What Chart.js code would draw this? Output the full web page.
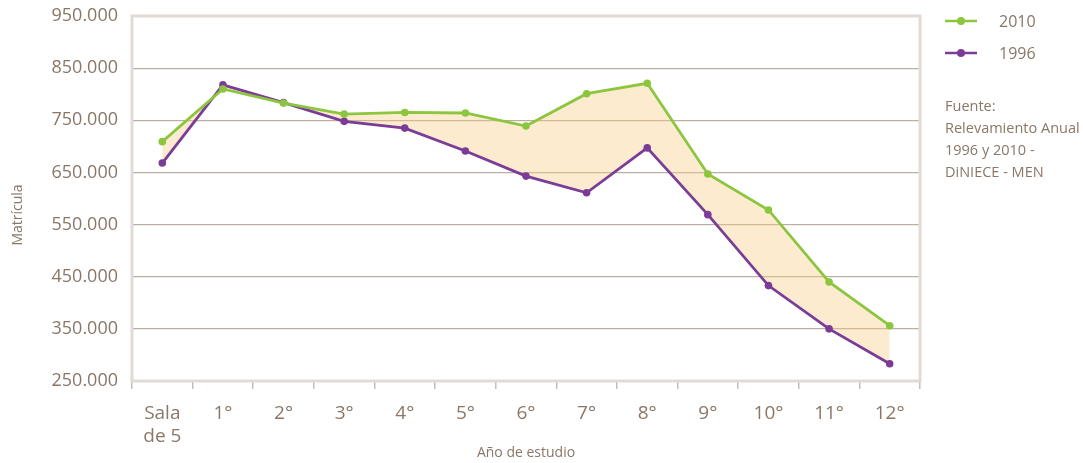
<!DOCTYPE html>
<html>
<head>
<meta charset="utf-8">
<script src="https://cdn.jsdelivr.net/npm/chart.js@4/dist/chart.umd.min.js"></script>
<style>
  html, body { margin: 0; padding: 0; background: #fff; }
  #wrap { position: relative; width: 1083px; height: 463px; }
</style>
</head>
<body>
<div id="wrap"><canvas id="matriculaChart"></canvas></div>
<script>
// datos
const categories = [['Sala', 'de 5'], '1°', '2°', '3°', '4°', '5°', '6°', '7°', '8°', '9°', '10°', '11°', '12°'];
const values2010 = [709000, 810000, 783000, 762000, 765000, 764000, 739000, 801000, 821000, 647000, 578000, 440000, 356000];
const values1996 = [668000, 818000, 784000, 748000, 735000, 691000, 643000, 611000, 697000, 569000, 433000, 350000, 283000];
const yTicks = [250000, 350000, 450000, 550000, 650000, 750000, 850000, 950000];
const sourceLines = ['Fuente:', 'Relevamiento Anual', '1996 y 2010 -', 'DiNIECE - MEN'];

const textColor = '#8a7767';
const gridColor = '#bcafa2';
const frameColor = '#e2dad4';
const green = '#8cc63f';
const purple = '#7b3c97';
const fontFamily = '"Open Sans", "Noto Sans", sans-serif';

function formatMiles(v) {
  return String(v).replace(/\B(?=(\d{3})+(?!\d))/g, '.');
}

// marco del area de graficos
const framePlugin = {
  id: 'frame',
  beforeDatasetsDraw(chart) {
    const a = chart.chartArea;
    const ctx = chart.ctx;
    ctx.save();
    ctx.strokeStyle = frameColor;
    ctx.lineWidth = 3;
    ctx.strokeRect(a.left, a.top, a.right - a.left, a.bottom - a.top);
    ctx.restore();
  }
};

// titulo eje y, leyenda y fuente
const sidePlugin = {
  id: 'side',
  afterDraw(chart) {
    const ctx = chart.ctx;
    ctx.save();
    ctx.fillStyle = textColor;
    ctx.font = '14px ' + fontFamily;
    ctx.translate(18, 215);
    ctx.rotate(-Math.PI / 2);
    ctx.textAlign = 'center';
    ctx.textBaseline = 'middle';
    ctx.fillText('Matrícula', 0, 0);
    ctx.restore();

    ctx.save();
    chart.data.datasets.forEach((ds, i) => {
      const y = 21 + i * 32;
      ctx.strokeStyle = ds.borderColor;
      ctx.lineWidth = 2.5;
      ctx.beginPath();
      ctx.moveTo(945, y);
      ctx.lineTo(977, y);
      ctx.stroke();
      ctx.fillStyle = ds.borderColor;
      ctx.beginPath();
      ctx.arc(961, y, 4, 0, Math.PI * 2);
      ctx.fill();
      ctx.fillStyle = textColor;
      ctx.font = '16px ' + fontFamily;
      ctx.textAlign = 'left';
      ctx.textBaseline = 'middle';
      ctx.fillText(ds.label, 999, y + 1);
    });
    ctx.font = '14.5px ' + fontFamily;
    sourceLines.forEach((t, i) => {
      ctx.fillText(t, 945, 107 + i * 22);
    });
    ctx.restore();
  }
};

const ctx = document.getElementById('matriculaChart').getContext('2d');
new Chart(ctx, {
  type: 'line',
  data: {
    labels: categories,
    datasets: [{
      label: '2010',
      data: values2010,
      borderColor: green,
      backgroundColor: 'rgba(250, 200, 125, 0.37)',
      pointBackgroundColor: green,
      borderWidth: 2.8,
      pointRadius: 3.8,
      pointBorderWidth: 0,
      tension: 0,
      fill: '+1'
    }, {
      label: '1996',
      data: values1996,
      borderColor: purple,
      backgroundColor: purple,
      pointBackgroundColor: purple,
      borderWidth: 2.8,
      pointRadius: 3.8,
      pointBorderWidth: 0,
      tension: 0,
      fill: false
    }]
  },
  options: {
    responsive: true,
    maintainAspectRatio: false,
    animation: false,
    layout: { padding: { top: 16, right: 163, left: 0, bottom: 0 } },
    plugins: {
      legend: { display: false },
      tooltip: { enabled: false },
      filler: { drawTime: 'beforeDatasetsDraw' }
    },
    scales: {
      x: {
        offset: true,
        border: { display: false },
        grid: {
          offset: true,
          drawOnChartArea: false,
          drawTicks: true,
          tickLength: 8,
          color: '#c9bdb3',
          lineWidth: 1.5
        },
        ticks: {
          color: textColor,
          font: { family: fontFamily, size: 19 },
          padding: 13,
          maxRotation: 0,
          autoSkip: false
        },
        title: {
          display: true,
          text: 'Año de estudio',
          color: textColor,
          font: { family: fontFamily, size: 14 },
          padding: { top: 4, bottom: 2 }
        },
        afterFit(scale) {
          scale.height = 82;
          scale.paddingLeft = 0;
          scale.paddingRight = 0;
        }
      },
      y: {
        min: 250000,
        max: 950000,
        border: { display: false },
        grid: {
          color: gridColor,
          lineWidth: 1.2,
          drawTicks: false
        },
        afterBuildTicks(scale) {
          scale.ticks = yTicks.map(v => ({ value: v }));
        },
        ticks: {
          color: textColor,
          font: { family: fontFamily, size: 18 },
          padding: 14,
          callback: v => formatMiles(v)
        },
        afterFit(scale) {
          scale.width = 132;
          scale.paddingTop = 0;
          scale.paddingBottom = 0;
        }
      }
    }
  },
  plugins: [framePlugin, sidePlugin]
});
</script>
</body>
</html>
